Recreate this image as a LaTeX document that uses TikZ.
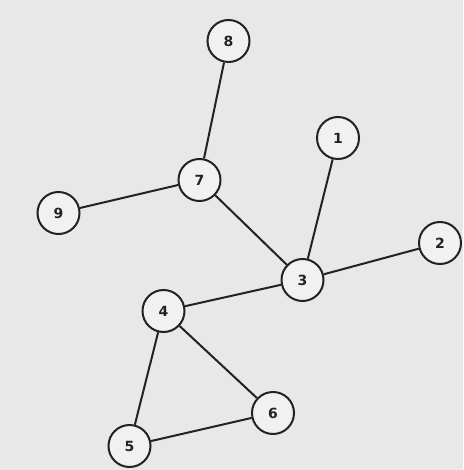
\documentclass[tikz,border=0pt]{standalone}
\usepackage{fontspec}
\setmainfont{DejaVu Sans}
\definecolor{bg}{HTML}{E8E8E8}
\definecolor{nodefill}{HTML}{F1F1F1}
\definecolor{ink}{HTML}{222222}
\begin{document}
\begin{tikzpicture}[x=1pt,y=-1pt,
  vertex/.style={circle,draw=ink,line width=2pt,fill=nodefill,minimum size=42pt,inner sep=0pt,
    font=\fontsize{14}{14}\selectfont\bfseries,text=ink},
  edge/.style={draw=ink,line width=2pt}]
\fill[bg] (0,0) rectangle (463,470);
\useasboundingbox (0,0) rectangle (463,470);
\node[vertex] (n8) at (228.5,41) {8};
\node[vertex] (n7) at (199.5,180) {7};
\node[vertex] (n1) at (338,138) {1};
\node[vertex] (n9) at (58.5,213) {9};
\node[vertex] (n2) at (440,243) {2};
\node[vertex] (n3) at (302.5,280) {3};
\node[vertex] (n4) at (163.5,311) {4};
\node[vertex] (n6) at (273,413) {6};
\node[vertex] (n5) at (129.5,446) {5};
\path[edge] (n8) -- (n7);
\path[edge] (n9) -- (n7);
\path[edge] (n7) -- (n3);
\path[edge] (n1) -- (n3);
\path[edge] (n2) -- (n3);
\path[edge] (n3) -- (n4);
\path[edge] (n4) -- (n5);
\path[edge] (n4) -- (n6);
\path[edge] (n5) -- (n6);
\end{tikzpicture}
\end{document}
